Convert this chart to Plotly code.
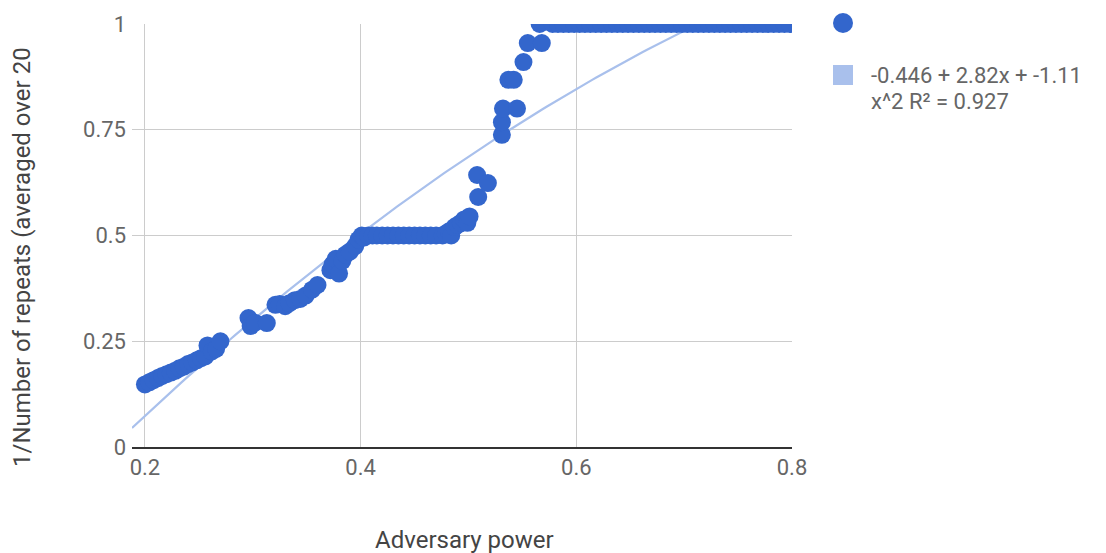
import numpy as np
import plotly.graph_objects as go

# ---- data ----
adversary_power = [
    0.200, 0.204, 0.208, 0.212, 0.216, 0.220, 0.224, 0.228, 0.232, 0.236,
    0.240, 0.244, 0.248, 0.252, 0.256, 0.258, 0.262, 0.266, 0.270,
    0.296, 0.298, 0.302, 0.313,
    0.321, 0.325, 0.330, 0.334, 0.339, 0.344, 0.349, 0.355, 0.360,
    0.372, 0.374, 0.377, 0.380, 0.383, 0.386, 0.390, 0.395, 0.398, 0.401,
    0.403, 0.407, 0.411, 0.415, 0.420, 0.425, 0.430, 0.435, 0.440, 0.445,
    0.450, 0.455, 0.460, 0.465, 0.470,
    0.476, 0.479, 0.482, 0.484, 0.487, 0.490, 0.493, 0.496, 0.499, 0.501,
    0.508, 0.509, 0.518,
    0.531, 0.531, 0.532, 0.545, 0.537, 0.542, 0.551, 0.555, 0.568, 0.566,
    0.578, 0.583, 0.588, 0.593, 0.598, 0.603, 0.608, 0.613, 0.618, 0.623,
    0.628, 0.633, 0.638, 0.643, 0.648, 0.653, 0.658, 0.663, 0.668, 0.673,
    0.678, 0.683, 0.688, 0.693, 0.698, 0.703, 0.708, 0.713, 0.718, 0.723,
    0.728, 0.733, 0.738, 0.743, 0.748, 0.753, 0.758, 0.763, 0.768, 0.773,
    0.778, 0.783, 0.788, 0.793, 0.798,
]
inv_repeats = [
    0.148, 0.153, 0.158, 0.163, 0.168, 0.172, 0.176, 0.180, 0.186, 0.190,
    0.196, 0.200, 0.205, 0.210, 0.214, 0.240, 0.226, 0.232, 0.250,
    0.305, 0.286, 0.294, 0.293,
    0.336, 0.338, 0.333, 0.340, 0.347, 0.350, 0.358, 0.372, 0.383,
    0.418, 0.432, 0.445, 0.410, 0.440, 0.455, 0.462, 0.475, 0.490, 0.500,
    0.495, 0.500, 0.500, 0.500, 0.500, 0.500, 0.500, 0.500, 0.500, 0.500,
    0.500, 0.500, 0.500, 0.500, 0.500,
    0.500, 0.505, 0.510, 0.500, 0.520, 0.525, 0.530, 0.538, 0.530, 0.545,
    0.643, 0.591, 0.624,
    0.738, 0.768, 0.800, 0.800, 0.868, 0.868, 0.910, 0.955, 0.955, 1.000,
    1.0, 1.0, 1.0, 1.0, 1.0, 1.0, 1.0, 1.0, 1.0, 1.0,
    1.0, 1.0, 1.0, 1.0, 1.0, 1.0, 1.0, 1.0, 1.0, 1.0,
    1.0, 1.0, 1.0, 1.0, 1.0, 1.0, 1.0, 1.0, 1.0, 1.0,
    1.0, 1.0, 1.0, 1.0, 1.0, 1.0, 1.0, 1.0, 1.0, 1.0,
    1.0, 1.0, 1.0, 1.0, 1.0,
]
trend_coef = [-0.446, 2.82, -1.11]          # c0 + c1*x + c2*x^2 (from legend)
trend_label_lines = ["-0.446 + 2.82x + -1.11", "x^2 R² = 0.927"]
x_ticks = [0.2, 0.4, 0.6, 0.8]
x_tick_text = ["0.2", "0.4", "0.6", "0.8"]
y_ticks = [0, 0.25, 0.5, 0.75, 1]
y_tick_text = ["0", "0.25", "0.5", "0.75", "1"]
x_title = "Adversary power"
y_title = "1/Number of repeats (averaged over 20"

x_range = [0.188, 0.8]

# trendline evaluated from the stated coefficients
tx = np.linspace(x_range[0], x_range[1], 200)
ty = trend_coef[0] + trend_coef[1] * tx + trend_coef[2] * tx ** 2

FONT = "Roboto, Arial, sans-serif"
BLUE = "#3366cc"
LIGHT = "#a9c0ec"
TICK_SIZE = 22
TITLE_SIZE = 24
LEG_SIZE = 22
TICK_COLOR = "#666666"
TITLE_COLOR = "#444444"

fig = go.Figure()
fig.add_trace(go.Scatter(
    x=tx, y=ty, mode="lines",
    line=dict(color=LIGHT, width=2.2),
    hoverinfo="skip", showlegend=False,
))
fig.add_trace(go.Scatter(
    x=adversary_power, y=inv_repeats, mode="markers",
    marker=dict(color=BLUE, size=18, line=dict(width=0)),
    showlegend=False,
))

W, H = 1106, 553
L, R, T, B = 132, 792, 24, 447

fig.update_layout(
    width=W, height=H,
    margin=dict(l=L, r=W - R, t=T, b=H - B, autoexpand=False),
    paper_bgcolor="white", plot_bgcolor="white",
    font=dict(family=FONT, size=TICK_SIZE, color=TICK_COLOR),
    showlegend=False,
    xaxis=dict(
        range=x_range, tickvals=x_ticks, ticktext=x_tick_text,
        showgrid=True, gridcolor="#cccccc", gridwidth=1,
        zeroline=False, showline=True, linecolor="#333", linewidth=2,
        ticks="", ticklabelstandoff=0,
        tickfont=dict(size=TICK_SIZE, color=TICK_COLOR),
    ),
    yaxis=dict(
        range=[0, 1], tickvals=y_ticks, ticktext=y_tick_text,
        showgrid=True, gridcolor="#cccccc", gridwidth=1,
        zeroline=False, showline=False,
        ticks="", ticklabelstandoff=5,
        tickfont=dict(size=TICK_SIZE, color=TICK_COLOR),
    ),
)

def px2paper_x(px):
    return (px - L) / (R - L)

def px2paper_y(py):
    return (B - py) / (B - T)

# axis titles
fig.add_annotation(text=x_title, xref="paper", yref="paper",
                   x=px2paper_x(464), y=px2paper_y(540), showarrow=False,
                   font=dict(size=TITLE_SIZE, color=TITLE_COLOR, family=FONT),
                   xanchor="center", yanchor="middle")
fig.add_annotation(text=y_title, xref="paper", yref="paper",
                   x=px2paper_x(22), y=px2paper_y(257), showarrow=False,
                   textangle=-90,
                   font=dict(size=TITLE_SIZE, color=TITLE_COLOR, family=FONT),
                   xanchor="center", yanchor="middle")

# legend (drawn manually)
fig.add_shape(type="circle", xref="paper", yref="paper",
              xsizemode="pixel", ysizemode="pixel",
              xanchor=px2paper_x(843), yanchor=px2paper_y(23),
              x0=-10, x1=10, y0=-10, y1=10,
              fillcolor=BLUE, line=dict(width=0))
fig.add_shape(type="rect", xref="paper", yref="paper",
              xsizemode="pixel", ysizemode="pixel",
              xanchor=px2paper_x(843), yanchor=px2paper_y(75),
              x0=-10, x1=10, y0=-10, y1=10,
              fillcolor=LIGHT, line=dict(width=0))
for line_txt, cy in zip(trend_label_lines, [76, 101]):
    fig.add_annotation(text=line_txt, xref="paper", yref="paper",
                       x=px2paper_x(869), y=px2paper_y(cy), showarrow=False,
                       align="left", xanchor="left", yanchor="middle",
                       font=dict(size=LEG_SIZE, color=TICK_COLOR, family=FONT))

fig.write_html("out.html", config={"displayModeBar": False},
               post_script="document.body.style.margin='0';")
